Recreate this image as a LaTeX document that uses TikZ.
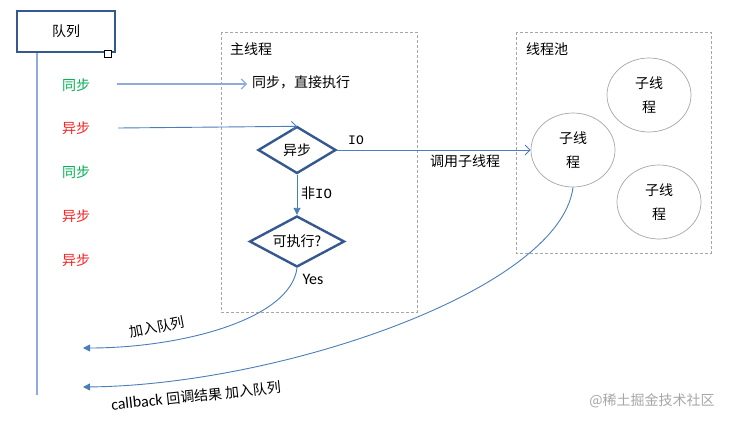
\documentclass[tikz,border=0pt]{standalone}
\usepackage{fontspec}
\setmainfont{Carlito}
\newfontfamily\cjk{Noto Sans CJK SC}
\newfontfamily\monof{Liberation Mono}
\usetikzlibrary{shapes.geometric,arrows.meta}
\definecolor{darkb}{HTML}{35598F}
\definecolor{lightb}{HTML}{8FAADC}
\definecolor{midb}{HTML}{4A7EBB}
\definecolor{syncg}{HTML}{00B050}
\definecolor{asyncr}{HTML}{FF2020}
\definecolor{pooledge}{HTML}{A6A6A6}
\tikzset{
  cn/.style={font=\cjk\fontsize{14}{17}\selectfont, inner sep=1pt},
  lat/.style={font=\fontsize{16}{18}\selectfont, inner sep=1pt},
  thickbox/.style={draw=darkb, line width=2.4pt, fill=white},
  region/.style={draw=gray!70, densely dashed, line width=0.6pt},
  thread/.style={ellipse, draw=pooledge, line width=0.7pt, minimum width=84pt, minimum height=74pt, align=center, cn, font=\cjk\fontsize{14}{24}\selectfont},
  decide/.style={diamond, thickbox, inner sep=0pt, aspect=1.66, cn},
  openarr/.style={-{Straight Barb[length=5pt,width=10pt]}},
  fillarr/.style={-{Triangle[length=7pt,width=7pt]}},
  flow/.style={draw=midb, line width=0.9pt},
}
\begin{document}
\begin{tikzpicture}[x=1pt,y=-1pt]
\useasboundingbox (0,0) rectangle (734,423);
% regions
\draw[region] (221,32) rectangle (417,312);
\draw[region] (516,32) rectangle (711,253);
\node[cn, anchor=west] (mainlbl) at (229,49) {主线程};
\node[cn, anchor=west] (poollbl) at (525,49) {线程池};
% queue
\node[thickbox, minimum width=98pt, minimum height=41pt, cn] (queue) at (66,31.5) {队列};
\node[draw=black, fill=white, line width=0.8pt, minimum size=7pt, inner sep=0pt] (handle) at (108,54) {};
\coordinate (qend) at (37,395);
\draw[lightb, line width=1.4pt] (queue.south west -| qend) -- (qend);
% items
\node[cn, text=syncg] (s1) at (76,85) {同步};
\node[cn, text=asyncr] (s2) at (76,128) {异步};
\node[cn, text=syncg] (s3) at (76,172) {同步};
\node[cn, text=asyncr] (s4) at (76,216) {异步};
\node[cn, text=asyncr] (s5) at (76,260) {异步};
% main thread
\node[cn, anchor=west] (direct) at (251,82) {同步，直接执行};
\node[decide, minimum width=78pt, minimum height=47pt] (d1) at (297,150) {异步};
\node[decide, minimum width=95pt, minimum height=51pt] (d2) at (297,241.5) {可执行?};
\coordinate (syncstart) at (117,84);
\draw[lightb, line width=1.2pt, openarr] (syncstart) -- ([xshift=-4pt]direct.west |- syncstart);
\draw[flow, openarr] ([xshift=27pt]s2.east) -- ([yshift=-1pt]d1.north);
\draw[flow, fillarr] (d1.south) -- (d2.north);
\node[cn, anchor=west, font=\cjk\fontsize{14}{17}\selectfont] (nonio) at (300,193) {非\monof IO};
\node[anchor=west, font=\monof\fontsize{13}{15}\selectfont, inner sep=1pt] (io) at (347,140) {IO};
\node[lat] (yes) at (313,279) {Yes};
% thread pool
\node[thread] (t1) at (573,150) {子线\\程};
\node[thread] (t2) at (649,95) {子线\\程};
\node[thread] (t3) at (659,202) {子线\\程};
\draw[flow, openarr] (d1.east) -- (t1.west);
\node[cn] (call) at (465,161) {调用子线程};
% returns
\coordinate (r1) at (83,348);
\coordinate (r2) at (83,387);
\draw[flow, fillarr] (d2.south) .. controls (290,320) and (180,348) .. (r1);
\draw[flow, fillarr] (t1.south) .. controls (560,290) and (280,385) .. (r2);
\node[cn, rotate=11] (join1) at (157,327) {加入队列};
\node[rotate=6, inner sep=1pt] (join2) at (196,396) {\fontsize{16}{18}\selectfont callback {\cjk\fontsize{14}{17}\selectfont 回调结果 加入队列}};
% watermark
\node[cn, text=gray!70] (wm) at (652,401) {@稀土掘金技术社区};
\end{tikzpicture}
\end{document}
